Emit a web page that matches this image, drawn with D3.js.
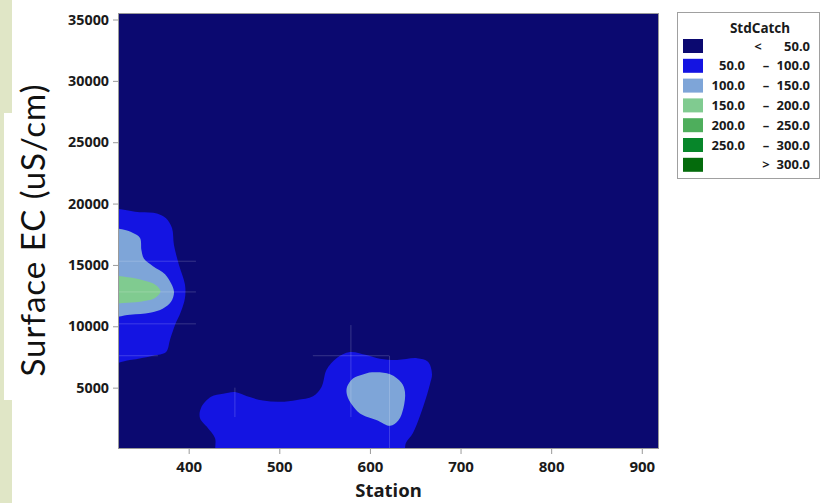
<!DOCTYPE html>
<html>
<head>
<meta charset="utf-8">
<script src="https://cdn.jsdelivr.net/npm/d3@7"></script>
<style>
  body { margin: 0; background: #ffffff; }
  svg { display: block; font-family: "Noto Sans", sans-serif; }
</style>
</head>
<body>
<div id="contourPlot"></div>
<script>
// contour plot of StdCatch over Station x Surface EC

const xTicks = [400, 500, 600, 700, 800, 900];
const yTicks = [5000, 10000, 15000, 20000, 25000, 30000, 35000];
const xDomain = [322, 919];
const yDomain = [0, 35530];

const legendTitle = "StdCatch";
const levelLower = [null, 50, 100, 150, 200, 250, 300];
const levelUpper = [50, 100, 150, 200, 250, 300, null];
const levelColors = ["#0b0970", "#1414e2", "#7ea5d8", "#80cb90", "#4eae5c", "#07862a", "#046b0c"];

// contour outlines, [station, EC]; level = index into levelColors
const leftBand50 = [[305, 19250], [346, 19300], [365, 19200], [375, 18800], [381.6, 18000], [383.8, 16600],
  [389.3, 15000], [395.9, 13400], [395.9, 12300], [391.5, 11200], [384.9, 10100], [379.4, 8900],
  [375, 7900], [360.6, 7600], [335.2, 7250], [305, 7100]];
const leftBand100 = [[305, 17900], [326.4, 17900], [338.6, 17600], [346.3, 17200], [347.9, 16200],
  [350.7, 15500], [360.6, 14900], [373.9, 14250], [380.5, 13500], [383.8, 12800], [380.5, 12000],
  [371.7, 11450], [357.3, 11100], [335.2, 10950], [305, 10900]];
const leftBand150 = [[305, 14000], [333, 14000], [349.6, 13750], [363.9, 13350], [368.9, 12850],
  [362.8, 12300], [346.3, 12000], [327.5, 11900], [305, 11900]];
const lowBand50 = [[432.4, -600], [429, 900], [421.3, 1700], [412.5, 2500], [413.6, 3350], [424.6, 4250],
  [437.9, 4500], [451.1, 4650], [464.4, 4300], [482, 3950], [500.8, 3850], [519.5, 4000], [537.2, 4300],
  [546.6, 5050], [552.1, 6450], [563.1, 7400], [578, 7900], [596.2, 7650], [611.1, 7350], [629.9, 7250],
  [652, 7400], [664.1, 7100], [668.5, 6100], [666.3, 5300], [661.9, 4150], [655.3, 2700], [647.5, 1300],
  [639.8, 500], [635.4, -600]];
const lowBand100 = [[574.7, 5050], [581.3, 5750], [591.3, 6050], [602.3, 6250], [622.2, 6100], [634.8, 5400],
  [638.7, 4650], [637, 3350], [631.5, 2350], [622.2, 1900], [607.8, 2350], [589, 2900], [580.2, 3600],
  [574.7, 4400]];

const bands = [
  {level: 1, pts: leftBand50},
  {level: 1, pts: lowBand50},
  {level: 2, pts: leftBand100},
  {level: 2, pts: lowBand100},
  {level: 3, pts: leftBand150}
];

// faint crosshair marks, [station1, EC1, station2, EC2]
const crossMarks = [
  [322, 15300, 408, 15300], [322, 12800, 408, 12800], [322, 10200, 408, 10200], [322, 7600, 366, 7600],
  [579, 10100, 579, 2600], [537, 7600, 621, 7600], [621.6, 7600, 621.6, 0], [451, 5000, 451, 2600]
];

const width = 821, height = 503;
const plot = {left: 118, right: 659, top: 13, bottom: 449};

const svg = d3.select("#contourPlot").append("svg")
  .attr("width", width)
  .attr("height", height);

// slide decoration on the left
svg.append("rect").attr("x", 0).attr("y", 0).attr("width", 12).attr("height", 113).attr("fill", "#e0e6c6");
svg.append("rect").attr("x", 0).attr("y", 113).attr("width", 4).attr("height", 287).attr("fill", "#e0e6c6");
svg.append("rect").attr("x", 0).attr("y", 400).attr("width", 12).attr("height", 103).attr("fill", "#e0e6c6");

const x = d3.scaleLinear().domain(xDomain).range([plot.left, plot.right]);
const y = d3.scaleLinear().domain(yDomain).range([plot.bottom, plot.top]);

svg.append("clipPath").attr("id", "plotClip")
  .append("rect")
  .attr("x", x(xDomain[0])).attr("y", y(yDomain[1]))
  .attr("width", x(xDomain[1]) - x(xDomain[0]))
  .attr("height", y(yDomain[0]) - y(yDomain[1]));

const g = svg.append("g").attr("clip-path", "url(#plotClip)");

g.append("rect")
  .attr("x", x(xDomain[0])).attr("y", y(yDomain[1]))
  .attr("width", x(xDomain[1]) - x(xDomain[0]))
  .attr("height", y(yDomain[0]) - y(yDomain[1]))
  .attr("fill", levelColors[0]);

const outline = d3.line()
  .x(d => x(d[0]))
  .y(d => y(d[1]))
  .curve(d3.curveCatmullRomClosed.alpha(0.5));

g.selectAll(".band")
  .data(bands)
  .join("path")
  .attr("class", "band")
  .attr("d", d => outline(d.pts))
  .attr("fill", d => levelColors[d.level]);

g.selectAll(".cross")
  .data(crossMarks)
  .join("line")
  .attr("class", "cross")
  .attr("x1", d => x(d[0])).attr("y1", d => y(d[1]))
  .attr("x2", d => x(d[2])).attr("y2", d => y(d[3]))
  .attr("stroke", "#ffffff")
  .attr("stroke-opacity", 0.18)
  .attr("stroke-width", 1);

// frame
svg.append("rect")
  .attr("x", x(xDomain[0]) + 0.5).attr("y", y(yDomain[1]) + 0.5)
  .attr("width", x(xDomain[1]) - x(xDomain[0]) - 1)
  .attr("height", y(yDomain[0]) - y(yDomain[1]) - 1)
  .attr("fill", "none")
  .attr("stroke", "#9a9a9a");

const xAxis = svg.append("g")
  .attr("transform", `translate(0,${plot.bottom})`)
  .call(d3.axisBottom(x).tickValues(xTicks).tickSize(5).tickSizeOuter(0).tickPadding(7).tickFormat(d3.format("d")));
const yAxis = svg.append("g")
  .attr("transform", `translate(${plot.left},0)`)
  .call(d3.axisLeft(y).tickValues(yTicks).tickSize(5).tickSizeOuter(0).tickPadding(4).tickFormat(d3.format("d")));

[xAxis, yAxis].forEach(a => {
  a.select(".domain").remove();
  a.selectAll(".tick line").attr("stroke", "#9a9a9a");
  a.selectAll(".tick text")
    .attr("fill", "#1a1a1a")
    .style("font-family", "'Noto Sans', sans-serif")
    .style("font-weight", "bold");
});
xAxis.selectAll(".tick text").style("font-size", "15px");
yAxis.selectAll(".tick text").style("font-size", "14.3px");

svg.append("text")
  .attr("x", (plot.left + plot.right) / 2)
  .attr("y", 497)
  .attr("text-anchor", "middle")
  .attr("fill", "#1a1a1a")
  .style("font-size", "18.5px")
  .style("font-weight", "bold")
  .text("Station");

svg.append("text")
  .attr("transform", "translate(45,230) rotate(-90)")
  .attr("text-anchor", "middle")
  .attr("fill", "#111111")
  .style("font-family", "Lato, 'Open Sans', sans-serif")
  .style("font-weight", 400)
  .style("font-size", "33px")
  .style("letter-spacing", "1px")
  .text("Surface EC (uS/cm)");

// legend
const legend = svg.append("g");
legend.append("rect")
  .attr("x", 677.5).attr("y", 12.5)
  .attr("width", 142).attr("height", 166)
  .attr("fill", "#ffffff")
  .attr("stroke", "#a0a0a0");
legend.append("text")
  .attr("x", 760).attr("y", 32.5)
  .attr("text-anchor", "middle")
  .attr("fill", "#1a1a1a")
  .style("font-size", "13.5px")
  .style("font-weight", "bold")
  .text(legendTitle);

const fmt = d3.format(".1f");
const rows = legend.selectAll(".row")
  .data(levelColors)
  .join("g")
  .attr("class", "row")
  .attr("transform", (d, i) => `translate(0,${46 + i * 19.8})`);

rows.append("rect")
  .attr("x", 683).attr("y", -7)
  .attr("width", 20).attr("height", 14)
  .attr("fill", d => d);

const rowText = (sel, xPos, anchor, fn) => sel.append("text")
  .attr("x", xPos).attr("y", 4.5)
  .attr("text-anchor", anchor)
  .attr("fill", "#1a1a1a")
  .style("font-size", "13px")
  .style("font-weight", "bold")
  .text(fn);

rowText(rows, 745, "end", (d, i) => levelLower[i] !== null && levelUpper[i] !== null ? fmt(levelLower[i]) : "");
rowText(rows, 766, "middle", (d, i) => levelLower[i] === null ? "" : levelUpper[i] === null ? ">" : "\u2013");
rowText(rows, 758, "middle", (d, i) => levelLower[i] === null ? "<" : "");
rowText(rows, 810, "end", (d, i) => levelUpper[i] === null ? fmt(levelLower[i]) : fmt(levelUpper[i]));
</script>
</body>
</html>
